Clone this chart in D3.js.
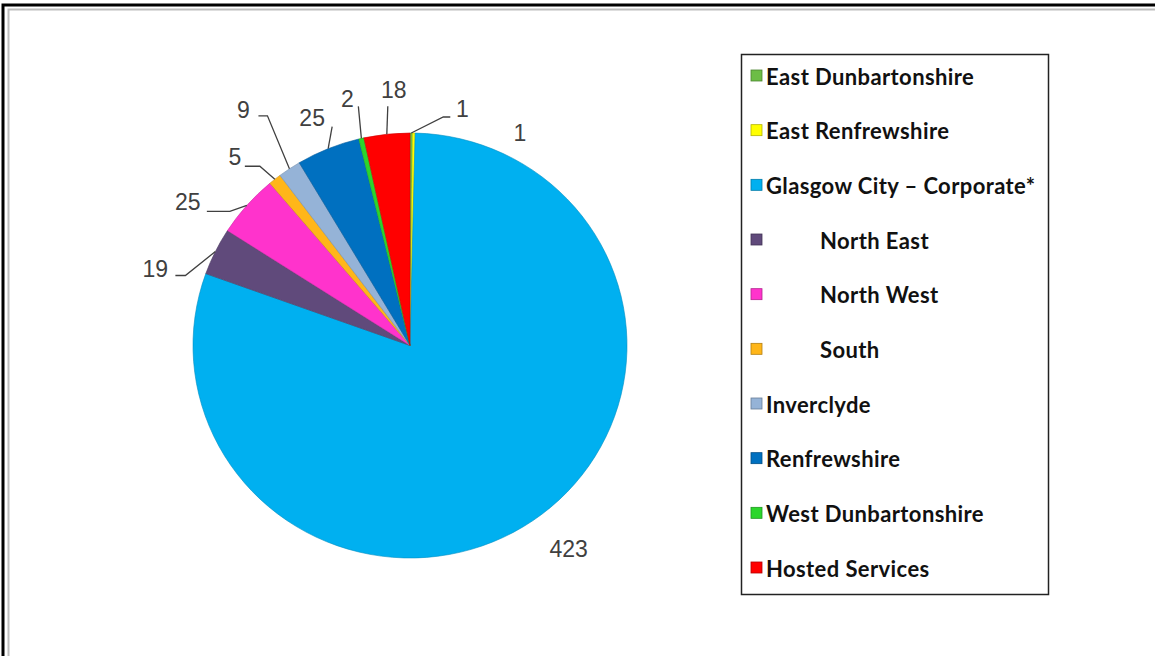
<!DOCTYPE html>
<html>
<head>
<meta charset="utf-8">
<script src="https://cdn.jsdelivr.net/npm/d3@7"></script>
<style>
  body { margin: 0; background: #fff; }
  svg { display: block; }
</style>
</head>
<body>
<svg id="chart"></svg>
<script>
// Chart data
var partners = [
    "East Dunbartonshire",
    "East Renfrewshire",
    "Glasgow City \u2013 Corporate*",
    "        North East",
    "        North West",
    "        South",
    "Inverclyde",
    "Renfrewshire",
    "West Dunbartonshire",
    "Hosted Services"
];
var counts = [1, 1, 423, 19, 25, 5, 9, 25, 2, 18];
var colours = ["#6cbd45", "#ffff00", "#00b0f0", "#604a7b", "#ff33cc",
               "#ffb619", "#95b3d7", "#0070c0", "#2bd62b", "#ff0000"];

// Label placement: offset of label centre from slice edge midpoint,
// and leader points relative to label centre (null = no leader)
var labelShift = [[51, -24], [106, 0], [36, 28], [-60, 17], [-59, -3],
                  [-40, -22], [-46, -59], [-16, -31], [-14, -39], [7, -44]];
var leaderPts = [
    [[-19, 8], [-12, 8]],
    null,
    null,
    [[30, 7], [20, 7]],
    [[42, 9], [19, 9]],
    [[25, 9], [10, 9]],
    [[24, 6], [15, 6]],
    [[20, 9]],
    [[11, 7]],
    [[-6, 16]]
];

var W = 1155, H = 656;
var svg = d3.select("#chart").attr("width", W).attr("height", H);

// frame
svg.append("rect")
    .attr("x", 3).attr("y", 5)
    .attr("width", W + 10).attr("height", H + 10)
    .attr("fill", "none").attr("stroke", "#000").attr("stroke-width", 3);
svg.append("rect")
    .attr("x", 8.5).attr("y", 9.5)
    .attr("width", W + 10).attr("height", H + 10)
    .attr("fill", "none").attr("stroke", "#bdbdbd").attr("stroke-width", 2);

// pie
var cx = 410, cy = 345.5, rx = 217, ry = 212.5;

var pie = d3.pie().sort(null).value(function(d) { return d; });
var arcs = pie(counts);
var arc = d3.arc().innerRadius(0).outerRadius(rx);

var g = svg.append("g")
    .attr("transform", "translate(" + cx + "," + cy + ") scale(1," + (ry / rx) + ")");

g.selectAll("path")
    .data(arcs).enter()
    .append("path")
    .attr("d", arc)
    .attr("fill", function(d, i) { return colours[i]; })
    .attr("stroke", function(d, i) { return d3.color(colours[i]).darker(0.6); })
    .attr("stroke-width", 0.6);

// data labels with leaders
var labels = svg.append("g")
    .attr("font-family", "'Liberation Sans', Arial, sans-serif")
    .attr("font-size", 23)
    .attr("fill", "#404040");

arcs.forEach(function(d, i) {
    var a = (d.startAngle + d.endAngle) / 2;
    var ex = cx + rx * Math.sin(a);
    var ey = cy - ry * Math.cos(a);
    var lx = ex + labelShift[i][0];
    var ly = ey + labelShift[i][1];

    labels.append("text")
        .attr("x", lx).attr("y", ly)
        .attr("text-anchor", "middle")
        .attr("dominant-baseline", "central")
        .text(d.data);

    if (leaderPts[i]) {
        var pts = [[ex, ey]].concat(leaderPts[i].map(function(p) {
            return [lx + p[0], ly + p[1]];
        }));
        labels.append("path")
            .attr("d", d3.line()(pts))
            .attr("fill", "none")
            .attr("stroke", "#404040")
            .attr("stroke-width", 1.3);
    }
});

// legend
var legend = svg.append("g");
legend.append("rect")
    .attr("x", 741.5).attr("y", 54.5)
    .attr("width", 307).attr("height", 540)
    .attr("fill", "#fff").attr("stroke", "#222").attr("stroke-width", 1.5);

var ly = d3.scalePoint().domain(d3.range(partners.length)).range([75, 567]);

var items = legend.selectAll(".item")
    .data(partners).enter()
    .append("g")
    .attr("class", "item")
    .attr("transform", function(d, i) { return "translate(751," + ly(i) + ")"; });

items.append("rect")
    .attr("x", 0).attr("y", -5)
    .attr("width", 11).attr("height", 11)
    .attr("fill", function(d, i) { return colours[i]; })
    .attr("stroke", function(d, i) { return d3.color(colours[i]).darker(1); })
    .attr("stroke-width", 0.8);

items.append("text")
    .attr("x", function(d) { return /^\s/.test(d) ? 69 : 15; })
    .attr("y", 1)
    .attr("dominant-baseline", "central")
    .attr("font-family", "Lato, 'Liberation Sans', sans-serif")
    .attr("font-size", 22)
    .attr("font-weight", 700)
    .attr("letter-spacing", 0.4)
    .attr("fill", "#111")
    .text(function(d) { return d.trim(); });
</script>
</body>
</html>
